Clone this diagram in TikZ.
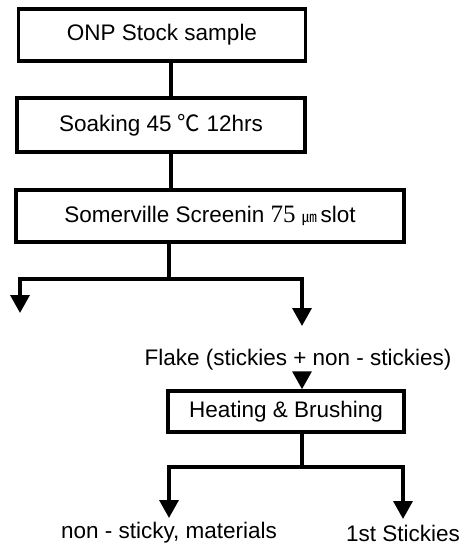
\documentclass[tikz,border=0pt]{standalone}
\usepackage{fontspec}
\setmainfont{Liberation Sans}
\newfontfamily\cjk{Noto Sans CJK SC}
\newfontfamily\serifnum{Liberation Serif}
\usetikzlibrary{arrows.meta}
\begin{document}
\begin{tikzpicture}[x=1pt,y=-1pt,
  box/.style={draw,line width=3.5pt,inner sep=0pt,font=\fontsize{22.5}{27}\selectfont},
  lbl/.style={inner sep=0pt,font=\fontsize{22.5}{27}\selectfont},
  conn/.style={line width=3.5pt},
  arr/.style={line width=3.5pt,-{Triangle[width=19pt,length=18pt]}}]
\useasboundingbox (0,0) rectangle (462,545);
\node[box,minimum width=287pt,minimum height=52pt] (b1) at (162,35) {ONP Stock sample};
\node[box,minimum width=288pt,minimum height=54pt] (b2) at (161,125) {Soaking 45 {\cjk ℃} 12hrs};
\node[box,minimum width=388pt,minimum height=52pt] (b3) at (210,216) {Somerville Screenin {\serifnum\fontsize{25}{27}\selectfont 75} {\cjk\fontsize{15}{18}\selectfont ㎛}\,slot};
\node[lbl] (flake) at (298,360) {Flake (stickies + non - stickies)};
\node[box,minimum width=236pt,minimum height=41pt] (heat) at (286,411.5) {Heating \& Brushing};
\node[lbl] (nonsticky) at (169,533) {non - sticky, materials};
\node[lbl] (stickies) at (403,533) {1st Stickies};
% coordinates
\coordinate (s1) at (171,0);
\coordinate (s2) at (169,0);
\coordinate (j1) at (169,279);
\coordinate (l1) at (20,279);
\coordinate (r1) at (302,279);
\coordinate (lend) at (20,313);
\coordinate (rend) at (302,326);
\coordinate (s3) at (302,0);
\coordinate (f1) at (302,373);
\coordinate (j2) at (302,467);
\coordinate (l2) at (169,467);
\coordinate (r2) at (403,467);
\coordinate (lend2) at (169,518);
\coordinate (rend2) at (403,519);
% connectors
\draw[conn] (s1 |- b1.south) -- (s1 |- b2.north);
\draw[conn] (s1 |- b2.south) -- (s1 |- b3.north);
\draw[conn] (s2 |- b3.south) -- (j1);
\draw[arr] (j1) -- (l1) -- (lend);
\draw[arr] (j1) -- (r1) -- (rend);
\draw[arr] (f1) -- (s3 |- heat.north);
\draw[conn] (s3 |- heat.south) -- (j2);
\draw[arr] (j2) -- (l2) -- (lend2);
\draw[arr] (j2) -- (r2) -- (rend2);
\end{tikzpicture}
\end{document}
